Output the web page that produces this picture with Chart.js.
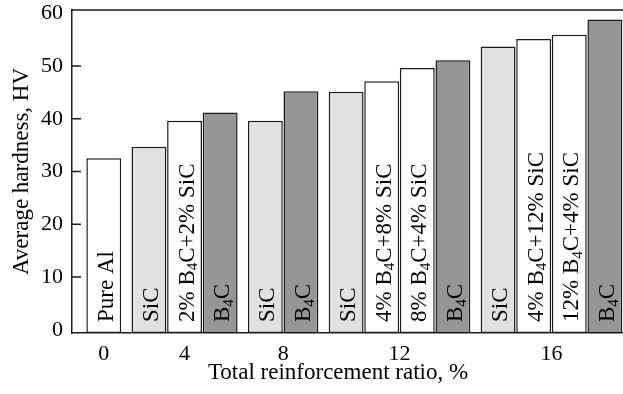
<!DOCTYPE html>
<html>
<head>
<meta charset="utf-8">
<script src="https://cdn.jsdelivr.net/npm/chart.js@4.4.1/dist/chart.umd.min.js"></script>
<style>
  html, body { margin: 0; padding: 0; background: #ffffff; }
  #wrap { width: 623px; height: 394px; }
</style>
</head>
<body>
<div id="wrap"><canvas id="c" width="623" height="394"></canvas></div>
<script>
// ---- data ----
const xLabels = ['0', '4', '8', '12', '16'];
const barLabels = ['Pure Al', 'SiC', '2% B₄C+2% SiC', 'B₄C', 'SiC', 'B₄C', 'SiC',
  '4% B₄C+8% SiC', '8% B₄C+4% SiC', 'B₄C', 'SiC', '4% B₄C+12% SiC', '12% B₄C+4% SiC', 'B₄C'];
const barGroup = [0, 1, 1, 1, 2, 2, 3, 3, 3, 3, 4, 4, 4, 4];
const hardness = [32.5, 34.7, 39.6, 41.2, 39.6, 45.2, 45.1, 47.1, 49.6, 51.1, 53.7, 55.1, 55.9, 58.8];
const yTicks = [0, 10, 20, 30, 40, 50, 60];
const xTitle = 'Total reinforcement ratio, %';
const yTitle = 'Average hardness, HV';

// ---- layout helpers (positions derived from group structure) ----
const GAP = 0.27;
const Y_MIN = -0.6, Y_MAX = 60.6;
const barPos = barGroup.map((g, i) => i + g * GAP);
const groupCenters = xLabels.map((_, g) => {
  const ps = barPos.filter((_, i) => barGroup[i] === g);
  return (Math.min(...ps) + Math.max(...ps)) / 2;
});
const colorFor = (lbl) => lbl === 'SiC' ? '#e1e1e1' : (lbl === 'B₄C' ? '#969696' : '#ffffff');

const FONT = "'Liberation Serif', 'Times New Roman', serif";
const SUB = '₀₁₂₃₄₅₆₇₈₉';

function drawRich(ctx, text, fs) {
  let x = 0;
  let run = '';
  const flush = () => {
    if (!run) return;
    ctx.font = fs + 'px ' + FONT;
    ctx.fillText(run, x, 0);
    x += ctx.measureText(run).width;
    run = '';
  };
  for (const ch of text) {
    const k = SUB.indexOf(ch);
    if (k >= 0) {
      flush();
      const sfs = Math.round(fs * 0.66);
      ctx.font = sfs + 'px ' + FONT;
      ctx.fillText(String(k), x, fs * 0.16);
      x += ctx.measureText(String(k)).width;
    } else {
      run += ch;
    }
  }
  flush();
}

const barTextPlugin = {
  id: 'barText',
  afterDatasetsDraw(chart) {
    const ctx = chart.ctx;
    const meta = chart.getDatasetMeta(0);
    const fs = 23;
    const yStart = chart.chartArea.bottom - 11;
    ctx.save();
    ctx.fillStyle = '#000000';
    ctx.textBaseline = 'alphabetic';
    ctx.textAlign = 'left';
    meta.data.forEach((bar, i) => {
      ctx.save();
      ctx.beginPath();
      ctx.rect(chart.chartArea.left, chart.chartArea.top, chart.chartArea.right - chart.chartArea.left, chart.chartArea.bottom - chart.chartArea.top);
      ctx.clip();
      ctx.translate(bar.x + 9, yStart);
      ctx.rotate(-Math.PI / 2);
      drawRich(ctx, barLabels[i], fs);
      ctx.restore();
    });
    ctx.restore();
  },
  afterDraw(chart) {
    const ctx = chart.ctx;
    const a = chart.chartArea;
    const ys = chart.scales.y;
    ctx.save();
    ctx.strokeStyle = '#1a1a1a';
    ctx.lineWidth = 1.5;
    ctx.beginPath();
    ctx.moveTo(a.left - 0.75, a.top);
    ctx.lineTo(a.right, a.top);
    ctx.stroke();
    ctx.beginPath();
    yTicks.forEach(v => {
      const py = ys.getPixelForValue(v);
      if (py > a.top + 6 && py < a.bottom - 4) {
        ctx.moveTo(a.left, py);
        ctx.lineTo(a.left + 9, py);
      }
    });
    ctx.stroke();
    // x-axis title (centred slightly left of the plot centre, as in the figure)
    ctx.fillStyle = '#000000';
    ctx.font = '23px ' + FONT;
    ctx.textAlign = 'center';
    ctx.textBaseline = 'middle';
    ctx.fillText(xTitle, a.left + 266, 373);
    ctx.restore();
  }
};

new Chart(document.getElementById('c'), {
  type: 'bar',
  data: {
    datasets: [{
      data: hardness.map((v, i) => ({ x: barPos[i], y: v })),
      base: Y_MIN,
      backgroundColor: barLabels.map(colorFor),
      borderColor: '#1a1a1a',
      borderWidth: 1.5,
      borderSkipped: false,
      categoryPercentage: 1.0,
      barPercentage: 0.98
    }]
  },
  options: {
    responsive: false,
    animation: false,
    devicePixelRatio: 1,
    layout: { padding: { top: 10, right: 0, left: 0, bottom: 0 } },
    plugins: { legend: { display: false }, tooltip: { enabled: false } },
    scales: {
      x: {
        type: 'linear',
        offset: false,
        min: -0.893,
        max: 14.59,
        grid: { display: false, drawTicks: false, offset: false },
        border: { display: true, color: '#1a1a1a', width: 1.5 },
        afterBuildTicks: (s) => { s.ticks = groupCenters.map(v => ({ value: v })); },
        afterFit: (s) => { s.height = 61; s.paddingLeft = 0; s.paddingRight = 0; },
        ticks: {
          autoSkip: false, maxRotation: 0, padding: 8, color: '#000000',
          font: { family: FONT, size: 22 },
          callback: (v, i) => xLabels[i]
        },
        title: { display: false }
      },
      y: {
        min: Y_MIN,
        max: Y_MAX,
        grid: { display: false, drawTicks: false },
        border: { display: true, color: '#1a1a1a', width: 1.5 },
        afterBuildTicks: (s) => { s.ticks = yTicks.map(v => ({ value: v })); },
        afterFit: (s) => { s.width = 72; s.paddingTop = 0; s.paddingBottom = 0; },
        ticks: { padding: 9, color: '#000000', font: { family: FONT, size: 22 } },
        title: { display: true, text: yTitle, color: '#000000', font: { family: FONT, size: 23 }, padding: { top: 8, bottom: 0 } }
      }
    }
  },
  plugins: [barTextPlugin]
});
</script>
</body>
</html>
